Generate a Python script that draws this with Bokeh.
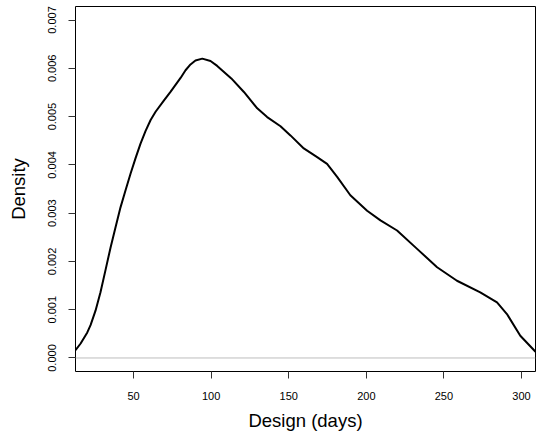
from bokeh.plotting import figure
from bokeh.models import FixedTicker, Span, Range1d, NumeralTickFormatter
from bokeh.embed import file_html
from bokeh.resources import INLINE

# Density estimate
design_days = [12.6, 15.9, 20.2, 22.3, 25.5, 28.7, 32.0, 35.2, 38.4, 41.6,
               44.8, 48.1, 51.3, 54.5, 57.7, 61.0, 64.2, 69.5, 73.8, 80.3,
               83.5, 86.7, 89.9, 94.3, 99.6, 103.9, 113.0, 121.1, 129.7,
               136.1, 144.7, 151.1, 159.7, 168.3, 174.7, 181.2, 189.7, 200.5,
               209.1, 219.8, 232.7, 245.6, 258.4, 273.4, 284.2, 290.6, 299.2,
               309.0]
density = [0.00016, 0.00030, 0.00053, 0.00068, 0.00098, 0.00136, 0.00183,
           0.00229, 0.00271, 0.00312, 0.00347, 0.00382, 0.00414, 0.00444,
           0.00470, 0.00493, 0.00510, 0.00533, 0.00551, 0.00580, 0.00596,
           0.00608, 0.00616, 0.00620, 0.00615, 0.00605, 0.00579, 0.00551,
           0.00517, 0.00499, 0.00480, 0.00461, 0.00434, 0.00416, 0.00402,
           0.00375, 0.00337, 0.00305, 0.00285, 0.00264, 0.00226, 0.00188,
           0.00160, 0.00136, 0.00115, 0.00091, 0.00046, 0.00013]

x_ticks = [50, 100, 150, 200, 250, 300]
y_ticks = [0.000, 0.001, 0.002, 0.003, 0.004, 0.005, 0.006, 0.007]

x_label = "Design (days)"
y_label = "Density"

FONT = "Liberation Sans"

p = figure(width=536, height=436, output_backend="svg", toolbar_location=None,
           x_range=Range1d(12.6, 309.0), y_range=Range1d(-0.00028, 0.00728),
           min_border_left=75, min_border_right=1, min_border_top=6,
           min_border_bottom=65, background_fill_color="white",
           border_fill_color="white")

p.outline_line_color = "black"
p.outline_line_width = 1
p.outline_line_alpha = 1.0
p.xgrid.grid_line_color = None
p.ygrid.grid_line_color = None

p.xaxis.ticker = FixedTicker(ticks=x_ticks)
p.yaxis.ticker = FixedTicker(ticks=y_ticks)
p.yaxis.formatter = NumeralTickFormatter(format="0.000")
p.yaxis.major_label_orientation = "vertical"

for ax in (p.xaxis, p.yaxis):
    ax.axis_line_color = None
    ax.major_tick_in = 0
    ax.major_tick_out = 7
    ax.major_tick_line_color = "#333333"
    ax.minor_tick_line_color = None
    ax.major_label_text_font = FONT
    ax.major_label_text_font_size = "11px"
    ax.major_label_text_color = "black"
    ax.axis_label_text_font = FONT
    ax.axis_label_text_font_size = "18.5px"
    ax.axis_label_text_font_style = "normal"
    ax.axis_label_text_color = "black"

p.xaxis.axis_label = x_label
p.yaxis.axis_label = y_label
p.xaxis.major_label_standoff = 13
p.xaxis.axis_label_standoff = 7
p.yaxis.major_label_standoff = 12
p.yaxis.axis_label_standoff = 17

p.add_layout(Span(location=0, dimension="width", line_color="#bebebe",
                  line_width=1))
p.line(design_days, density, line_color="black", line_width=2,
       line_join="round")

open("out.html", "w").write(file_html(p, INLINE))
